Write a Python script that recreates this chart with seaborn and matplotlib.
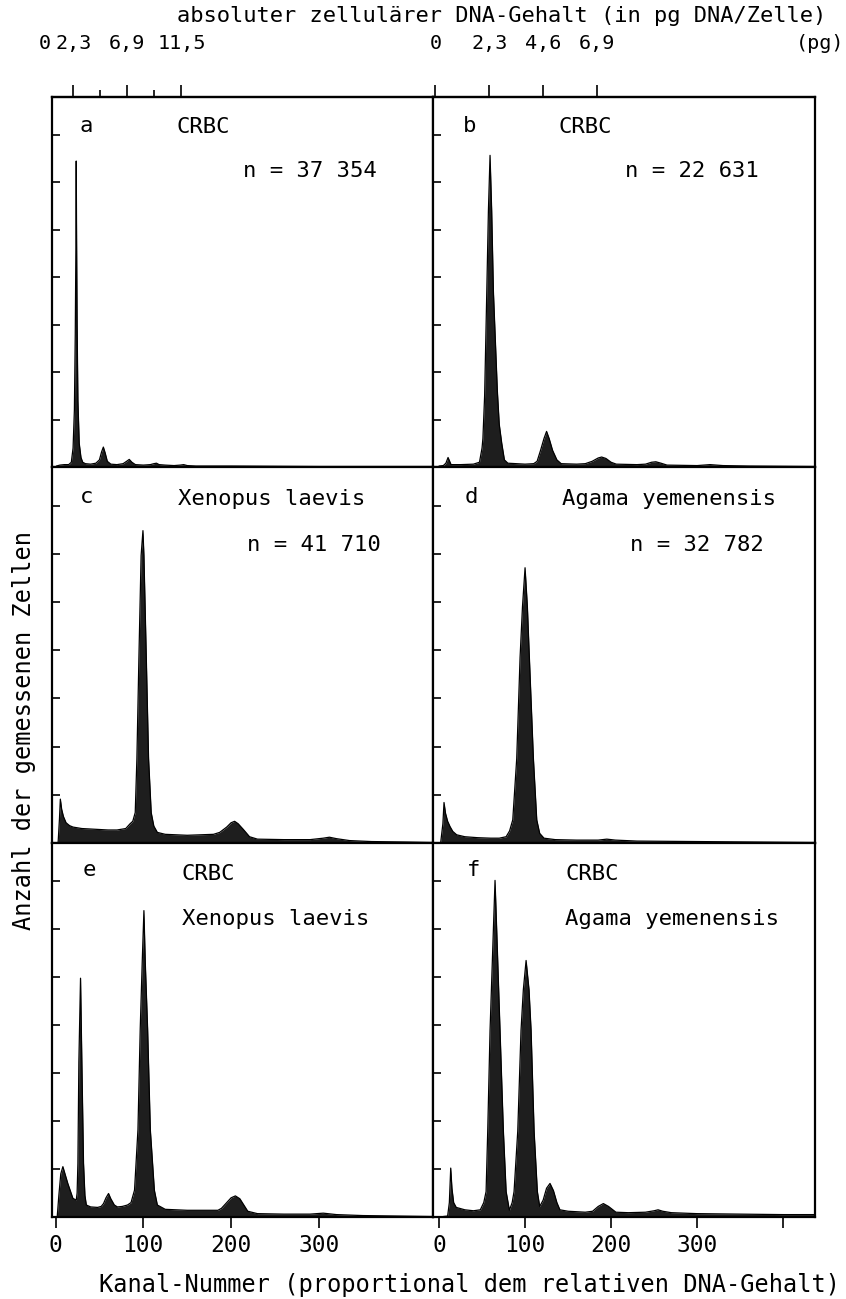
import numpy as np
import pandas as pd
import matplotlib
matplotlib.use("Agg")
import matplotlib.pyplot as plt
import seaborn as sns

sns.set_theme(style="white")
plt.rcParams['font.family'] = ['DejaVu Sans Mono', 'DejaVu Sans']
plt.rcParams['text.color'] = 'black'
plt.rcParams['axes.labelcolor'] = 'black'
plt.rcParams['xtick.color'] = 'black'
plt.rcParams['ytick.color'] = 'black'

# ---------------- data (channel number, relative cell count) ----------------
a_ch = [1, 5, 10, 15, 18, 20, 21.5, 22.5, 23.2, 23.6, 24.0, 24.6, 25.5, 27, 29, 31, 34, 40, 46, 50,
        52.5, 54.5, 56.5, 59, 63, 70, 77, 81, 84, 87, 91, 100, 108, 112, 115, 118, 125, 135, 142,
        146, 150, 160, 200, 300, 430]
a_h = [0.02, 0.04, 0.05, 0.05, 0.1, 0.4, 1.2, 2.8, 4.6, 6.45, 4.8, 3.0, 1.4, 0.5, 0.2, 0.1, 0.07,
       0.06, 0.08, 0.15, 0.32, 0.42, 0.3, 0.12, 0.06, 0.05, 0.07, 0.12, 0.16, 0.1, 0.05, 0.04, 0.05,
       0.07, 0.08, 0.05, 0.04, 0.03, 0.04, 0.05, 0.03, 0.02, 0.02, 0.01, 0.01]

b_ch = [0, 5, 8, 10.5, 14, 25, 40, 47, 50, 51, 53, 55.4, 57.4, 59.3, 61.2, 63.2, 67.8, 70, 72.9, 76,
        80, 100, 110, 114, 118, 122, 125, 128, 132, 137, 142, 160, 170, 178, 185, 189, 194, 200,
        206, 230, 240, 247, 252, 258, 265, 300, 315, 330, 360, 437]
b_h = [0.02, 0.03, 0.08, 0.2, 0.05, 0.05, 0.06, 0.1, 0.4, 0.6, 1.5, 3.6, 5.4, 6.57, 5.4, 3.7, 1.6,
       0.9, 0.5, 0.15, 0.08, 0.06, 0.07, 0.12, 0.35, 0.6, 0.75, 0.6, 0.35, 0.15, 0.07, 0.06, 0.07,
       0.12, 0.19, 0.21, 0.18, 0.1, 0.06, 0.05, 0.06, 0.1, 0.11, 0.08, 0.04, 0.03, 0.05, 0.03, 0.02,
       0.01]

c_ch = [3, 4.5, 5.5, 7, 9, 12, 16, 20, 30, 40, 50, 60, 70, 80, 85, 88, 90.8, 92.7, 95, 97.5, 99.6,
        100.7, 103.4, 106, 109, 112, 116, 125, 150, 180, 187, 195, 200, 204, 208, 214, 221, 230,
        260, 290, 305, 312, 320, 335, 360, 400, 430]
c_h = [0.02, 0.5, 0.91, 0.7, 0.55, 0.42, 0.36, 0.33, 0.3, 0.29, 0.28, 0.27, 0.27, 0.3, 0.4, 0.45,
       0.63, 1.75, 3.85, 5.96, 6.48, 5.96, 3.85, 1.75, 0.63, 0.35, 0.22, 0.18, 0.16, 0.18, 0.22,
       0.33, 0.42, 0.45, 0.4, 0.28, 0.13, 0.08, 0.07, 0.07, 0.1, 0.12, 0.09, 0.05, 0.03, 0.02, 0.01]

d_ch = [2, 4.5, 5.8, 7.5, 10, 12.8, 16, 20.5, 30, 45, 60, 70, 78, 82, 85.7, 90.3, 94.2, 97, 100,
        102.7, 105, 109.7, 113.6, 117, 122, 135, 160, 185, 195, 205, 230, 300, 437]
d_h = [0.02, 0.4, 0.84, 0.62, 0.45, 0.34, 0.24, 0.17, 0.13, 0.11, 0.1, 0.1, 0.13, 0.25, 0.48, 1.75,
       3.85, 4.9, 5.71, 4.9, 3.85, 1.75, 0.48, 0.2, 0.1, 0.07, 0.06, 0.06, 0.08, 0.06, 0.04, 0.03,
       0.01]

e_ch = [2, 3.8, 6, 8.4, 10, 14, 19.8, 23.6, 24.6, 25.5, 26.6, 28.5, 30, 31.9, 33.5, 35.1, 40, 48,
        52, 54.7, 57.5, 60.4, 63, 67, 70.5, 76, 82, 86, 90, 93.9, 96.5, 98.8, 100.7, 102.2, 104.9,
        108, 112.6, 116, 125, 150, 185, 189, 195, 200, 204.9, 210, 219, 230, 260, 290, 305, 320,
        350, 430]
e_h = [0.02, 0.45, 0.9, 1.05, 0.95, 0.7, 0.39, 0.35, 0.5, 1.12, 3.23, 4.98, 3.23, 1.12, 0.45,
       0.25, 0.21, 0.2, 0.22, 0.28, 0.4, 0.49, 0.38, 0.25, 0.21, 0.22, 0.25, 0.3, 0.56, 1.82, 3.93,
       5.33, 6.39, 5.33, 3.93, 1.82, 0.56, 0.25, 0.16, 0.14, 0.14, 0.18, 0.3, 0.4, 0.44, 0.38,
       0.12, 0.07, 0.06, 0.06, 0.08, 0.05, 0.03, 0.01]

f_ch = [5, 10, 12, 13.6, 15, 17, 20, 30, 40, 48, 52, 54.7, 56.6, 59.3, 63.2, 65.1, 67, 70.9, 74.8,
        78, 81.8, 85, 87.2, 91.5, 95.3, 98, 101.2, 104.6, 107, 110.5, 114.3, 117, 121, 125, 129,
        133, 137, 140.5, 150, 170, 178.5, 185, 191, 197, 205.6, 220, 240, 250, 254.6, 260, 270,
        300, 350, 400, 437]
f_h = [0.01, 0.02, 0.3, 1.02, 0.6, 0.3, 0.2, 0.15, 0.13, 0.15, 0.3, 0.53, 1.79, 3.89, 6.0, 7.02,
       6.0, 3.89, 1.79, 0.53, 0.14, 0.3, 0.53, 1.79, 3.89, 4.74, 5.35, 4.74, 3.89, 1.79, 0.53,
       0.22, 0.35, 0.6, 0.7, 0.55, 0.3, 0.15, 0.12, 0.1, 0.12, 0.22, 0.28, 0.22, 0.1, 0.09, 0.1,
       0.13, 0.15, 0.12, 0.09, 0.07, 0.06, 0.05, 0.05]

panel_letters = ['a', 'b', 'c', 'd', 'e', 'f']
panel_names = [['CRBC'], ['CRBC'], ['Xenopus laevis'], ['Agama yemenensis'],
               ['CRBC', 'Xenopus laevis'], ['CRBC', 'Agama yemenensis']]
panel_n = ['n = 37 354', 'n = 22 631', 'n = 41 710', 'n = 32 782', None, None]
series_ch = [a_ch, b_ch, c_ch, d_ch, e_ch, f_ch]
series_h = [a_h, b_h, c_h, d_h, e_h, f_h]

channel_ticks = [0, 100, 200, 300]
right_extra_tick = 400
pg_ticks_left_major = [2.3, 6.9, 11.5]
pg_ticks_left_minor = [4.6, 9.2]
pg_ticks_right = [0, 2.3, 4.6, 6.9]

title_top = 'absoluter zellulärer DNA-Gehalt (in pg DNA/Zelle)'
xlabel = 'Kanal-Nummer (proportional dem relativen DNA-Gehalt)'
ylabel = 'Anzahl der gemessenen Zellen'

# pg <-> channel calibration of the two columns
left_cal = (-10.35, 13.37)   # channel = offset + slope * pg
right_cal = (-4.2, 27.2)

# ---------------- layout ----------------
W, H = 846, 1299
fig = plt.figure(figsize=(W / 100, H / 100), dpi=100)
fig.patch.set_facecolor('white')
col_px = [(52, 433), (433, 815)]
row_px = [(97, 467), (467, 843), (843, 1217)]
xlims = [(-4, 430), (-7, 437)]
YMAX = 7.8
INK = '#1e1e1e'
FS = 16

# text positions in axes fractions per panel: (letter_x, letter_y, name_x, name_y, second_y)
text_pos = [
    (0.091, 0.905, 0.327, 0.903, 0.784),
    (0.097, 0.905, 0.328, 0.903, 0.784),
    (0.091, 0.904, 0.331, 0.899, 0.777),
    (0.101, 0.904, 0.337, 0.899, 0.777),
    (0.098, 0.912, 0.340, 0.901, 0.781),
    (0.105, 0.912, 0.346, 0.901, 0.781),
]
n_x = [0.502, 0.503, 0.511, 0.516]


def make_axes(r, c):
    x0, x1 = col_px[c]
    y0, y1 = row_px[r]
    return fig.add_axes([x0 / W, 1 - y1 / H, (x1 - x0) / W, (y1 - y0) / H])


for i, letter in enumerate(panel_letters):
    r, c = divmod(i, 2)
    ax = make_axes(r, c)
    df = pd.DataFrame({'Kanal': series_ch[i], 'Anzahl': series_h[i]})
    ax.fill_between(df['Kanal'], 0, df['Anzahl'], color=INK, lw=0, zorder=2)
    sns.lineplot(data=df, x='Kanal', y='Anzahl', ax=ax, color='black', lw=0.9,
                 sort=False, estimator=None, zorder=3)
    ax.set_xlim(*xlims[c])
    ax.set_ylim(0, YMAX)
    ax.set_xlabel('')
    ax.set_ylabel('')
    ax.set_facecolor('white')
    for s in ax.spines.values():
        s.set_color('black')
        s.set_linewidth(1.6)
        s.set_visible(True)
    ax.set_yticks(range(1, 8))
    ax.tick_params(axis='y', direction='in', length=6, width=1.2, color='black',
                   left=True, right=False, labelleft=False)
    if r == 2:
        ticks = list(channel_ticks) + ([right_extra_tick] if c == 1 else [])
        ax.set_xticks(ticks)
        ax.set_xticklabels([str(t) for t in channel_ticks] + ([''] if c == 1 else []))
        ax.tick_params(axis='x', direction='out', length=8, width=1.2, color='black',
                       bottom=True, labelbottom=True, labelsize=16.5, pad=4)
    else:
        ax.set_xticks([])

    # panel texts
    lx, ly, nx, ny, sy = text_pos[i]
    ax.text(lx, ly, letter, transform=ax.transAxes, ha='center', va='baseline', fontsize=FS)
    names = panel_names[i]
    ax.text(nx, ny, names[0], transform=ax.transAxes, ha='left', va='baseline', fontsize=FS)
    if len(names) > 1:
        ax.text(nx, sy, names[1], transform=ax.transAxes, ha='left', va='baseline', fontsize=FS)
    if panel_n[i]:
        ax.text(n_x[i], sy, panel_n[i], transform=ax.transAxes, ha='left', va='baseline',
                fontsize=FS)

    # top pg axis
    if r == 0:
        off, slope = left_cal if c == 0 else right_cal
        sec = ax.secondary_xaxis('top', functions=(lambda x, o=off, s=slope: (x - o) / s,
                                                   lambda p, o=off, s=slope: o + s * p))
        if c == 0:
            sec.set_xticks(pg_ticks_left_major)
            sec.set_xticklabels([str(t).replace('.', ',') for t in pg_ticks_left_major])
            sec.set_xticks(pg_ticks_left_minor, minor=True)
            ax.annotate('0', xy=(off, 1), xycoords=('data', 'axes fraction'),
                        xytext=(-1, 32), textcoords='offset points', ha='center',
                        va='bottom', fontsize=14.5, annotation_clip=False)
        else:
            sec.set_xticks(pg_ticks_right)
            sec.set_xticklabels([str(t).replace('.', ',') for t in pg_ticks_right])
            ax.annotate('(pg)', xy=(1, 1), xycoords='axes fraction', xytext=(4, 32),
                        textcoords='offset points', ha='center', va='bottom', fontsize=14.5,
                        annotation_clip=False)
        sec.tick_params(axis='x', which='major', direction='out', length=9, width=1.2,
                        pad=23, labelsize=14.5, color='black')
        sec.tick_params(axis='x', which='minor', direction='out', length=5, width=1.2,
                        color='black')
        sec.spines['top'].set_linewidth(1.6)

fig.text(502 / W, 1 - 22 / H, title_top, ha='center', va='baseline', fontsize=15.8)
fig.text(469 / W, 1 - 1292 / H, xlabel, ha='center', va='baseline', fontsize=17)
fig.text(24 / W, 1 - 731 / H, ylabel, ha='center', va='center', rotation=90, fontsize=17)

fig.savefig('out.png', dpi=100)
